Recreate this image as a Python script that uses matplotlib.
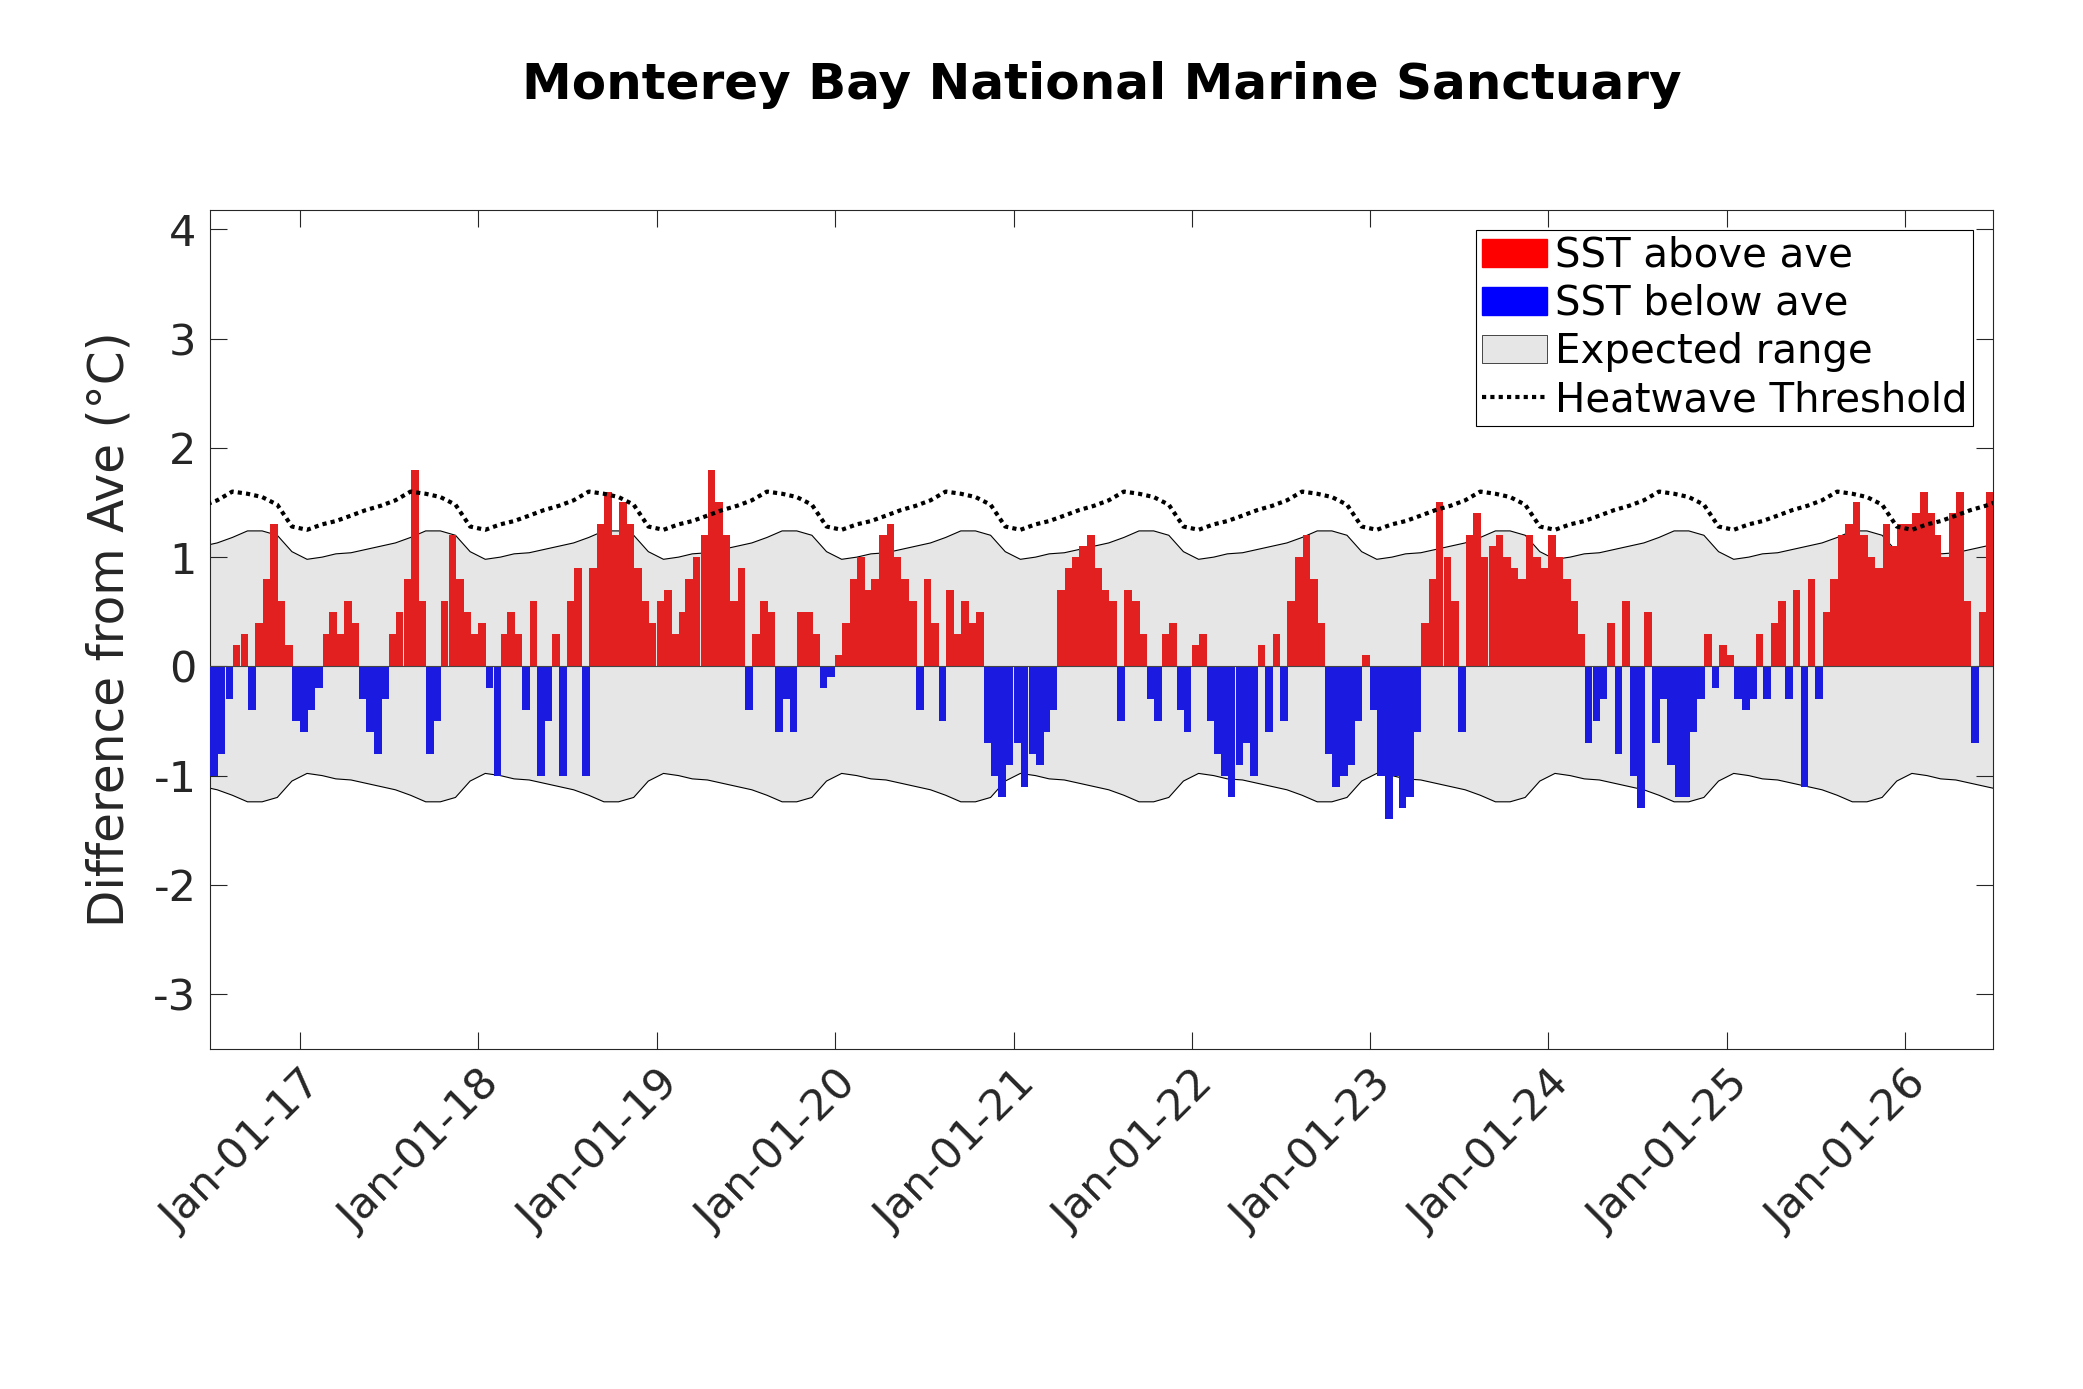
import matplotlib
matplotlib.use("Agg")
import matplotlib.pyplot as plt
import matplotlib.dates as mdates
import numpy as np
import datetime as dt
from matplotlib.patches import Patch
from matplotlib.lines import Line2D

# semi-monthly SST anomalies, starting Jul 2016
anom = [
 -1.0,-0.8,-0.3,0.2,0.3,-0.4,0.4,0.8,1.3,0.6,0.2,-0.5,
 -0.6,-0.4,-0.2,0.3,0.5,0.3,0.6,0.4,-0.3,-0.6,-0.8,-0.3,0.3,0.5,0.8,1.8,0.6,-0.8,-0.5,0.6,1.2,0.8,0.5,0.3,
 0.4,-0.2,-1.0,0.3,0.5,0.3,-0.4,0.6,-1.0,-0.5,0.3,-1.0,0.6,0.9,-1.0,0.9,1.3,1.6,1.2,1.5,1.3,0.9,0.6,0.4,
 0.6,0.7,0.3,0.5,0.8,1.0,1.2,1.8,1.5,1.2,0.6,0.9,-0.4,0.3,0.6,0.5,-0.6,-0.3,-0.6,0.5,0.5,0.3,-0.2,-0.1,
 0.1,0.4,0.8,1.0,0.7,0.8,1.2,1.3,1.0,0.8,0.6,-0.4,0.8,0.4,-0.5,0.7,0.3,0.6,0.4,0.5,-0.7,-1.0,-1.2,-0.9,
 -0.7,-1.1,-0.8,-0.9,-0.6,-0.4,0.7,0.9,1.0,1.1,1.2,0.9,0.7,0.6,-0.5,0.7,0.6,0.3,-0.3,-0.5,0.3,0.4,-0.4,-0.6,
 0.2,0.3,-0.5,-0.8,-1.0,-1.2,-0.9,-0.7,-1.0,0.2,-0.6,0.3,-0.5,0.6,1.0,1.2,0.8,0.4,-0.8,-1.1,-1.0,-0.9,-0.5,0.1,
 -0.4,-1.0,-1.4,-1.0,-1.3,-1.2,-0.6,0.4,0.8,1.5,1.0,0.6,-0.6,1.2,1.4,1.0,1.1,1.2,1.0,0.9,0.8,1.2,1.0,0.9,
 1.2,1.0,0.8,0.6,0.3,-0.7,-0.5,-0.3,0.4,-0.8,0.6,-1.0,-1.3,0.5,-0.7,-0.3,-0.9,-1.2,-1.2,-0.6,-0.3,0.3,-0.2,0.2,
 0.1,-0.3,-0.4,-0.3,0.3,-0.3,0.4,0.6,-0.3,0.7,-1.1,0.8,-0.3,0.5,0.8,1.2,1.3,1.5,1.2,1.0,0.9,1.3,1.1,1.3,
 1.3,1.4,1.6,1.4,1.2,1.0,1.4,1.6,0.6,-0.7,0.5,1.6,
]
# monthly climatology (Jan..Dec) of expected range upper bound and heatwave threshold
band_upper = [0.98, 1.00, 1.03, 1.04, 1.07, 1.10, 1.13, 1.18, 1.24, 1.24, 1.20, 1.05]
threshold = [1.25, 1.30, 1.33, 1.38, 1.43, 1.47, 1.52, 1.60, 1.58, 1.55, 1.48, 1.28]
years = list(range(2016, 2027))
xtick_labels = ["Jan-01-%02d" % (y % 100) for y in range(2017, 2027)]

dates = []
for i in range(len(anom)):
    m = 6 + i // 2
    y = 2016 + m // 12
    mo = m % 12 + 1
    dates.append(dt.date(y, mo, 1 if i % 2 == 0 else 16))
x = mdates.date2num(dates)
a = np.array(anom)

cd, cu, ct = [], [], []
for y in years:
    for mo in range(1, 13):
        cd.append(dt.date(y, mo, 15)); cu.append(band_upper[mo-1]); ct.append(threshold[mo-1])
cx = mdates.date2num(cd); cu = np.array(cu); ct = np.array(ct)

fig = plt.figure(figsize=(20.83, 13.89), dpi=100)
ax = fig.add_axes([0.101, 0.245, 0.856, 0.604])
ax.fill_between(cx, -cu, cu, facecolor="#e6e6e6", edgecolor="none", zorder=1)
ax.plot(cx, cu, color="black", lw=0.8, zorder=2)
ax.plot(cx, -cu, color="black", lw=0.8, zorder=2)
ax.bar(x[a > 0], a[a > 0], width=15.5, align="edge", color="#e32020", lw=0, zorder=3)
ax.bar(x[a < 0], a[a < 0], width=15.5, align="edge", color="#1a1ae0", lw=0, zorder=3)
ax.axhline(0, color="#444444", lw=0.8, zorder=4)
ax.plot(cx, ct, color="black", lw=3, ls=(0, (1, 1)), zorder=5)

ax.set_xlim(mdates.date2num(dt.date(2016, 7, 1)), mdates.date2num(dt.date(2026, 7, 1)))
ax.set_ylim(-3.5, 4.18)
ax.set_yticks(range(-3, 5))
ax.set_yticklabels([str(v) for v in range(-3, 5)])
ax.set_xticks(mdates.date2num([dt.date(y, 1, 1) for y in range(2017, 2027)]))
ax.set_xticklabels(xtick_labels, rotation=45, ha="right", rotation_mode="anchor")
ax.tick_params(direction="in", top=True, right=True, length=12, labelsize=31, colors="#262626", pad=10)
for s in ax.spines.values():
    s.set_linewidth(0.8); s.set_color("#262626")
ax.set_ylabel("Difference from Ave (°C)", fontsize=35, color="#262626", labelpad=14)
ax.set_title("Monterey Bay National Marine Sanctuary", fontsize=36, fontweight="bold", pad=80)

handles = [Patch(facecolor="red", edgecolor="red"), Patch(facecolor="blue", edgecolor="blue"),
           Patch(facecolor="#e6e6e6", edgecolor="black", lw=0.5),
           Line2D([], [], color="black", lw=3, ls=(0, (1, 1)))]
leg = ax.legend(handles, ["SST above ave", "SST below ave", "Expected range", "Heatwave Threshold"],
                loc="upper right", fontsize=29, fancybox=False, framealpha=1, edgecolor="black",
                borderaxespad=0.5, handlelength=1.6, handletextpad=0.2, labelspacing=0.2, borderpad=0.15)
leg.get_frame().set_linewidth(0.8)
fig.savefig("out.png", dpi=100)
